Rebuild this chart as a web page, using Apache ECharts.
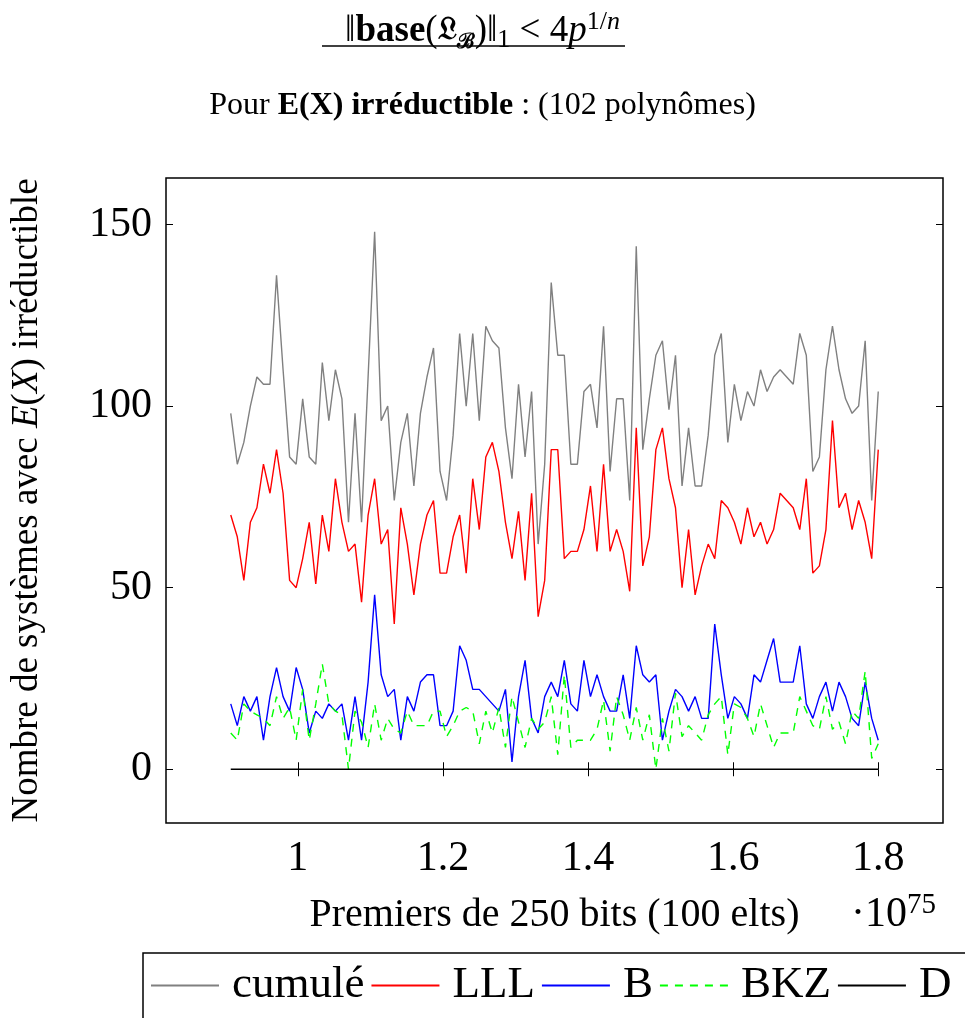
<!DOCTYPE html>
<html><head><meta charset="utf-8">
<script src="https://cdn.jsdelivr.net/npm/echarts@6/dist/echarts.min.js"></script>
<style>html,body{margin:0;padding:0;background:#fff}#c{width:965px;height:1018px}</style>
</head><body><div id="c"></div>
<script>
// ---- data (x in units of 10^75) ----
const SERIES_NAMES = ['cumulé', 'LLL', 'B', 'BKZ', 'D'];
const X_FIRST = 0.9076;
const X_LAST = 1.8;
const X_TICKS = [1, 1.2, 1.4, 1.6, 1.8];
const Y_TICKS = [0, 50, 100, 150];

const CUMULE = [98,84,90,100,108,106,106,136,110,86, 84,102,86,84,112,96,110,102,68,98,
  68,108,148,96,100,74,90,98,78,98, 108,116,82,74,92,120,100,120,96,122,
  118,116,94,80,106,86,104,62,84,134, 114,114,84,84,104,106,94,122,82,102,
  102,74,144,88,102,114,118,99,114,78, 94,78,78,92,114,120,90,106,96,104,
  100,110,104,108,110,108,106,120,114,82, 86,110,122,110,102,98,100,118,74,104];
const LLL = [70,64,52,68,72,84,76,88,76,52, 50,58,68,51,70,60,80,68,60,62,
  46,70,80,62,66,40,72,62,48,62, 70,74,54,54,64,70,54,80,66,86,
  90,82,68,58,71,52,76,42,52,88, 88,58,60,60,66,78,60,84,60,66,
  60,49,94,56,64,88,94,80,72,50, 66,48,56,62,58,74,72,68,62,72,
  64,68,62,66,76,74,72,66,80,54, 56,66,96,72,76,66,74,68,58,88];
const B = [18,12,20,16,20,8,20,28,20,16, 28,22,10,16,14,18,16,18,8,20,
  8,24,48,26,20,22,8,20,16,24, 26,26,12,12,16,34,30,22,22,20,
  18,16,22,2,20,30,14,10,20,24, 20,30,18,16,30,20,26,20,16,16,
  26,14,34,26,24,26,8,16,22,20, 16,20,14,14,40,26,14,20,18,14,
  26,24,30,36,24,24,24,34,18,14, 20,24,16,24,20,14,12,24,14,8];
const BKZ = [10,8,18,16,15,14,12,20,14,17, 8,22,8,18,29,18,16,15,0,16,
  13,6,18,8,14,11,10,16,12,12, 12,16,16,9,12,16,17,16,7,16,
  10,17,6,20,13,6,14,11,13,20, 4,26,6,8,8,8,11,19,5,20,
  15,8,17,8,15,0,14,5,21,9, 12,10,8,15,18,20,4,18,17,14,
  9,18,12,6,10,10,10,20,16,12, 11,20,11,13,7,16,14,27,3,7];
const D = [0,0,0,0,0,0,0,0,0,0, 0,0,0,0,0,0,0,0,0,0, 0,0,0,0,0,0,0,0,0,0,
  0,0,0,0,0,0,0,0,0,0, 0,0,0,0,0,0,0,0,0,0, 0,0,0,0,0,0,0,0,0,0,
  0,0,0,0,0,0,0,0,0,0, 0,0,0,0,0,0,0,0,0,0, 0,0,0,0,0,0,0,0,0,0,
  0,0,0,0,0,0,0,0,0,0];

// ---- build ----
const N = CUMULE.length;
const X = CUMULE.map((_, i) => X_FIRST + i * (X_LAST - X_FIRST) / (N - 1));
const pair = arr => arr.map((v, i) => [X[i], v]);
const xSpan = X_LAST - X_FIRST;
const allY = [].concat(CUMULE, LLL, B, BKZ, D);
const yMaxD = Math.max(...allY), yMinD = Math.min(...allY);
const ySpan = yMaxD - yMinD;
const XMIN = X_FIRST - 0.1 * xSpan, XMAX = X_LAST + 0.1 * xSpan;
const YMIN = yMinD - 0.1 * ySpan, YMAX = yMaxD + 0.1 * ySpan;

const FF = 'Liberation Serif';
const tick = {show: true, inside: true, length: 7, lineStyle: {color: '#000', width: 1}};

const chart = echarts.init(document.getElementById('c'), null, {renderer: 'canvas'});
const colors = ['#808080', '#ff0000', '#0000ff', '#00ff00', '#000000'];
const datas = [CUMULE, LLL, B, BKZ, D];

chart.setOption({
  animation: false,
  backgroundColor: '#fff',
  title: [{
    text: '{n|‖}{b|base}{n|(}{fr|𝔏}{sb|ℬ}{n|)‖}{s1|1}{n| < 4}{it|p}{sp|1/}{spi|n}',
    left: 'center', top: 4,
    textStyle: {
      fontFamily: FF, fontSize: 37, fontWeight: 'normal', color: '#000',
      rich: {
        n: {fontFamily: FF, fontSize: 37, lineHeight: 44, color: '#000'},
        b: {fontFamily: FF, fontSize: 37, lineHeight: 44, fontWeight: 'bold', color: '#000'},
        fr: {fontFamily: 'DejaVu Serif', fontSize: 32, lineHeight: 44, fontWeight: 'bold', color: '#000'},
        sb: {fontFamily: 'DejaVu Serif', fontSize: 21, lineHeight: 22, fontWeight: 'bold', verticalAlign: 'bottom', color: '#000'},
        s1: {fontFamily: FF, fontSize: 26, lineHeight: 22, verticalAlign: 'bottom', color: '#000'},
        it: {fontFamily: FF, fontSize: 37, lineHeight: 44, fontStyle: 'italic', color: '#000'},
        sp: {fontFamily: FF, fontSize: 26, lineHeight: 24, verticalAlign: 'top', color: '#000'},
        spi: {fontFamily: FF, fontSize: 26, lineHeight: 24, verticalAlign: 'top', fontStyle: 'italic', color: '#000'}
      }
    }
  }, {
    text: 'Pour {b|E(X) irréductible} : (102 polynômes)',
    left: 'center', top: 82,
    textStyle: {
      fontFamily: FF, fontSize: 32, fontWeight: 'normal', color: '#000', lineHeight: 38,
      rich: {b: {fontFamily: FF, fontSize: 32, fontWeight: 'bold', color: '#000', lineHeight: 38}}
    }
  }],
  graphic: [
    {type: 'line', shape: {x1: 322, y1: 46, x2: 625, y2: 46}, style: {stroke: '#000', lineWidth: 1.3}, silent: true},
    {type: 'text', x: 851, y: 891, silent: true,
      style: {text: '{a|·10}{b|75}', rich: {
        a: {fontFamily: FF, fontSize: 42, lineHeight: 48, fill: '#000'},
        b: {fontFamily: FF, fontSize: 29, lineHeight: 28, verticalAlign: 'top', fill: '#000'}}}}
  ],
  grid: {left: 166, right: 22, top: 178, bottom: 195, show: true, borderColor: '#000', borderWidth: 1.5},
  legend: {
    left: 143, top: 953, width: 860, orient: 'horizontal',
    data: SERIES_NAMES,
    itemWidth: 68, itemHeight: 14, itemGap: 6,
    padding: [10, 30, 30, 7],
    borderColor: '#000', borderWidth: 1.5,
    itemStyle: {opacity: 0},
    textStyle: {fontFamily: FF, fontSize: 45, color: '#000', padding: [0, 0, 0, 8]}
  },
  xAxis: [{
    type: 'value', min: XMIN, max: XMAX, position: 'bottom',
    axisLine: {show: false}, splitLine: {show: false},
    axisTick: Object.assign({customValues: X_TICKS}, tick),
    axisLabel: {customValues: X_TICKS, fontFamily: FF, fontSize: 42, color: '#000', margin: 15,
      formatter: v => String(Math.round(v * 10) / 10)},
    name: 'Premiers de 250 bits (100 elts)', nameLocation: 'middle', nameGap: 72,
    nameTextStyle: {fontFamily: FF, fontSize: 40, color: '#000'}
  }, {
    type: 'value', min: XMIN, max: XMAX, position: 'top',
    axisLine: {show: false}, splitLine: {show: false},
    axisTick: Object.assign({customValues: X_TICKS}, tick),
    axisLabel: {show: false}
  }],
  yAxis: [{
    type: 'value', min: YMIN, max: YMAX, position: 'left',
    axisLine: {show: false}, splitLine: {show: false},
    axisTick: Object.assign({customValues: Y_TICKS}, tick),
    axisLabel: {customValues: Y_TICKS, fontFamily: FF, fontSize: 42, color: '#000', margin: 14},
    name: 'Nombre de systèmes avec {it|E}({it|X}) irréductible', nameLocation: 'middle', nameGap: 120,
    nameTextStyle: {fontFamily: FF, fontSize: 37, color: '#000',
      rich: {it: {fontFamily: FF, fontSize: 37, fontStyle: 'italic', color: '#000'}}}
  }, {
    type: 'value', min: YMIN, max: YMAX, position: 'right',
    axisLine: {show: false}, splitLine: {show: false},
    axisTick: Object.assign({customValues: Y_TICKS}, tick),
    axisLabel: {show: false}
  }],
  series: SERIES_NAMES.map((name, k) => ({
    name, type: 'line', data: pair(datas[k]), symbol: 'none', showSymbol: false,
    xAxisIndex: 0, yAxisIndex: 0,
    lineStyle: {color: colors[k], width: 1.4, type: k === 3 ? [8, 7] : 'solid'},
    itemStyle: {color: colors[k]}
  }))
});
</script></body></html>
